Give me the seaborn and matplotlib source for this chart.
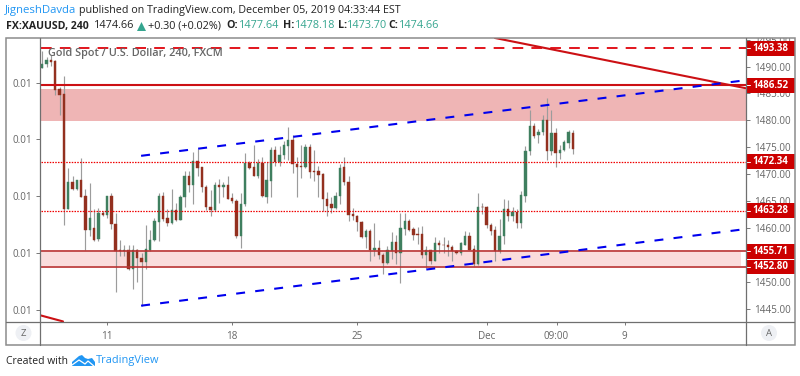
import seaborn as sns
import matplotlib
matplotlib.use("Agg")
import matplotlib.pyplot as plt
from matplotlib.patches import Rectangle, Circle, Polygon

opens = [1489.8,1490.4,1491.3,1491.0,1485.9,1484.9,1463.5,1468.5,1467.3,1468.9,
         1465.9,1459.7,1460.0,1458.0,1462.9,1462.4,1465.9,1460.8,1455.9,1455.8,
         1455.9,1452.5,1455.9,1454.5,1453.7,1456.0,1457.8,1461.2,1465.9,1461.9,
         1460.9,1463.4,1461.6,1465.7,1469.7,1468.1,1472.4,1471.3,1467.7,1464.0,
         1463.4,1468.0,1467.6,1468.0,1465.6,1465.1,1458.5,1464.4,1472.1,1471.3,
         1469.7,1472.1,1465.8,1468.8,1474.6,1472.2,1473.5,1475.2,1476.3,1472.0,
         1471.5,1471.4,1475.0,1470.6,1470.6,1470.0,1465.5,1464.4,1463.7,1465.9,
         1471.3,1468.6,1462.7,1462.3,1461.2,1458.3,1459.4,1455.9,1456.3,1455.0,
         1453.6,1455.8,1457.5,1455.4,1459.9,1461.4,1459.8,1458.9,1458.9,1455.1,
         1455.9,1454.0,1457.3,1456.9,1456.9,1456.6,1455.7,1455.4,1456.9,1458.5,
         1456.2,1453.4,1464.0,1464.0,1460.5,1459.6,1455.8,1458.5,1463.5,1462.2,
         1463.0,1460.9,1466.0,1474.4,1478.9,1477.3,1477.9,1480.1,1474.3,1477.6,
         1473.9,1474.5,1475.9,1477.64]
highs = [1492.8,1491.7,1492.1,1491.3,1486.2,1488.3,1471.1,1469.7,1468.9,1473.0,
         1467.3,1468.3,1463.6,1463.8,1463.2,1465.9,1466.5,1462.9,1457.8,1456.9,
         1456.9,1456.8,1456.2,1455.4,1460.5,1459.6,1461.9,1466.5,1466.8,1463.5,
         1467.2,1464.7,1466.1,1470.6,1470.6,1474.2,1474.7,1471.4,1468.1,1467.1,
         1468.5,1469.2,1468.6,1469.7,1466.5,1465.4,1466.5,1474.0,1472.5,1475.4,
         1472.9,1473.3,1472.2,1475.0,1475.3,1475.3,1476.2,1478.7,1477.2,1473.2,
         1475.5,1475.7,1475.7,1474.5,1471.6,1470.3,1466.7,1465.7,1466.7,1472.0,
         1473.3,1469.7,1463.8,1462.4,1461.3,1459.8,1459.8,1460.9,1457.8,1455.4,
         1456.7,1459.3,1458.8,1462.9,1462.9,1461.7,1460.3,1460.3,1460.4,1456.7,
         1456.0,1458.4,1457.9,1458.3,1457.8,1456.8,1455.9,1457.4,1459.4,1459.3,
         1456.8,1466.6,1464.7,1464.2,1461.0,1460.4,1461.7,1465.5,1465.2,1464.0,
         1463.6,1466.9,1475.3,1481.9,1479.6,1478.4,1481.0,1484.1,1481.9,1478.5,
         1475.4,1476.4,1478.3,1478.18]
lows = [1489.7,1489.9,1490.1,1484.7,1481.0,1460.5,1463.5,1467.1,1467.0,1465.7,
        1456.0,1458.5,1457.6,1457.6,1462.2,1461.9,1459.8,1448.1,1454.8,1454.9,
        1452.3,1448.7,1450.0,1445.6,1452.5,1455.7,1457.6,1457.6,1461.4,1460.4,
        1460.7,1461.3,1461.5,1464.0,1466.7,1464.5,1469.7,1466.7,1463.4,1462.2,
        1463.2,1464.7,1465.8,1465.4,1464.7,1458.2,1456.3,1464.2,1470.9,1469.6,
        1469.4,1465.7,1464.7,1465.7,1471.6,1471.6,1472.8,1472.7,1470.3,1465.8,
        1469.4,1471.2,1469.4,1468.8,1465.7,1463.2,1462.2,1462.9,1463.5,1464.4,
        1468.1,1461.3,1461.6,1459.5,1458.2,1456.3,1453.9,1454.9,1454.2,1451.5,
        1453.3,1454.2,1453.3,1449.8,1458.8,1459.4,1457.8,1457.0,1454.5,1452.6,
        1453.4,1453.9,1455.4,1455.4,1454.8,1454.0,1455.3,1455.1,1456.8,1455.9,
        1453.0,1453.1,1462.7,1460.1,1458.8,1453.9,1455.4,1457.0,1461.3,1461.3,
        1460.1,1460.0,1464.9,1473.5,1476.7,1475.9,1477.3,1472.7,1473.5,1471.4,
        1472.9,1474.3,1474.8,1473.70]
closes = [1490.5,1491.3,1490.9,1485.7,1484.7,1463.5,1468.5,1467.3,1468.9,1465.8,
          1459.7,1461.8,1457.9,1462.9,1462.4,1465.9,1460.8,1455.8,1455.8,1455.9,
          1452.5,1455.9,1454.4,1453.7,1456.2,1457.9,1461.3,1465.9,1461.7,1460.9,
          1463.4,1461.6,1465.8,1469.7,1468.1,1472.4,1471.2,1467.7,1463.9,1463.4,
          1468.0,1467.6,1468.0,1465.5,1465.0,1458.5,1464.4,1472.1,1471.1,1469.7,
          1472.1,1465.9,1468.9,1474.6,1472.3,1473.6,1475.4,1476.3,1472.0,1471.3,
          1471.4,1475.0,1470.4,1470.4,1469.9,1465.4,1464.2,1463.7,1465.9,1471.2,
          1468.5,1462.5,1462.2,1461.1,1458.3,1459.4,1456.0,1456.3,1455.0,1453.6,
          1455.9,1457.5,1455.4,1460.1,1461.4,1459.6,1458.8,1458.8,1455.1,1455.9,
          1454.0,1457.3,1456.8,1456.8,1456.5,1455.7,1455.4,1457.2,1458.5,1456.0,
          1453.4,1464.0,1463.9,1460.5,1459.4,1455.8,1458.6,1463.5,1462.2,1463.0,
          1461.0,1466.1,1474.4,1478.9,1477.1,1477.9,1480.1,1474.3,1477.6,1473.9,
          1474.5,1476.0,1477.9,1474.66]

price_ticks = [1445, 1450, 1460, 1465, 1470, 1475, 1480, 1485, 1490, 1495]
left_ticks = [1444.8, 1455.4, 1465.9, 1476.5, 1486.9]
left_labels = ["0.01", "0.01", "0.01", "0.01", "0.01"]
date_ticks = [15, 44, 73, 103, 119.2, 135]
date_labels = ["11", "18", "25", "Dec", "09:00", "9"]
tag_prices = [1493.38, 1486.52, 1472.34, 1463.28, 1455.71, 1452.80]

upper_x = [22.9, 162.4]
upper_y = [1473.43, 1487.39]
lower_x = [22.9, 162.4]
lower_y = [1445.62, 1459.78]
fall_x = [104.9, 163.0]
fall_y = [1495.3, 1485.98]
fall2_x = [-0.3, 4.8]
fall2_y = [1443.8, 1442.7]
level_x = [-0.3, 163.0]

GREEN = "#3f7f5f"
RED = "#93301f"
GREY = "#666666"

sns.set_theme(style="white")
plt.rcParams["font.family"] = ["Open Sans", "DejaVu Sans"]

fig = plt.figure(figsize=(8, 3.76), dpi=100)
ax = fig.add_axes([39.5 / 800, 1 - 321.7 / 376, 706 / 800, 283.7 / 376])

# zones
ax.fill_between([-0.3, 163.0], 1479.8, 1485.85, color="#efb5b5", lw=0, zorder=0.5)
ax.fill_between([-0.3, 161.9], 1452.95, 1455.55, color="#fadcdc", lw=0, zorder=0.5)

# candles
idx = list(range(len(opens)))
ax.vlines(idx, lows, highs, color="#9c9c9c", lw=0.85, zorder=1)
up = [i for i in idx if closes[i] >= opens[i]]
down = [i for i in idx if closes[i] < opens[i]]
sns.barplot(x=up, y=[closes[i] - opens[i] for i in up], bottom=[opens[i] for i in up],
            native_scale=True, width=0.55, color=GREEN, saturation=1, errorbar=None,
            edgecolor=GREEN, linewidth=0.3, zorder=2, ax=ax)
sns.barplot(x=down, y=[opens[i] - closes[i] for i in down], bottom=[closes[i] for i in down],
            native_scale=True, width=0.55, color=RED, saturation=1, errorbar=None,
            edgecolor=RED, linewidth=0.3, zorder=2, ax=ax)

# levels and trend lines
dash_red = (0, (5.5, 4.2))
dash_blue = (0, (4.3, 4.9))
dotted = (0, (1.2, 1))
sns.lineplot(x=level_x, y=[tag_prices[0]] * 2, color="#e2141c", linewidth=1.4, linestyle=dash_red, ax=ax, zorder=3)
sns.lineplot(x=level_x, y=[tag_prices[1]] * 2, color="#cc1014", linewidth=1.5, ax=ax, zorder=3)
for p in [tag_prices[2], tag_prices[3]]:
    sns.lineplot(x=level_x, y=[p, p], color="#f00000", linewidth=0.9, linestyle=dotted, ax=ax, zorder=3)
for p in [tag_prices[4], tag_prices[5]]:
    sns.lineplot(x=level_x, y=[p, p], color="#b93030", linewidth=1.2, ax=ax, zorder=3)
sns.lineplot(x=fall_x, y=fall_y, color="#cc1014", linewidth=1.5, ax=ax, zorder=3)
sns.lineplot(x=fall2_x, y=fall2_y, color="#cc1014", linewidth=1.5, ax=ax, zorder=3)
sns.lineplot(x=upper_x, y=upper_y, color="#0000ee", linewidth=1.5, linestyle=dash_blue, ax=ax, zorder=3)
sns.lineplot(x=lower_x, y=lower_y, color="#0000ee", linewidth=1.5, linestyle=dash_blue, ax=ax, zorder=3)

ax.set_xlim(-0.65, 163.0)
ax.set_ylim(1442.65, 1495.29)
ax.set_xlabel("")
ax.set_ylabel("")
for s in ax.spines.values():
    s.set_visible(False)
ax.set_xticks(date_ticks)
ax.set_xticklabels(date_labels)
ax.set_yticks(left_ticks)
ax.set_yticklabels(left_labels)
ax.tick_params(axis="x", length=2, width=0.7, color="#777777", labelcolor=GREY, labelsize=7.1, pad=5, bottom=True)
ax.tick_params(axis="y", length=3, width=0.7, color="#777777", labelcolor=GREY, labelsize=7.1, pad=2, left=True)
ax.text(0.0125, 0.947, "Gold Spot / U.S. Dollar, 240, FXCM", transform=ax.transAxes, fontsize=7.8,
        color="#666666", fontweight="semibold", va="center", zorder=4)

# price scale and last-value tags
ax2 = ax.twinx()
ax2.set_ylim(ax.get_ylim())
ax2.set_yticks(price_ticks)
ax2.set_yticklabels([f"{p:.2f}" for p in price_ticks])
ax2.tick_params(axis="y", length=3, width=0.7, color="#777777", labelcolor=GREY, labelsize=7.1, pad=3, right=True)
ax2.grid(False)
for s in ax2.spines.values():
    s.set_visible(False)
for p in tag_prices:
    ax2.add_patch(Rectangle((1.0, p - 1.39), 49 / 706, 2.78, transform=ax2.get_yaxis_transform(),
                            clip_on=False, facecolor="#cc0000", edgecolor="none", zorder=5))
    ax2.plot([1.0, 1.0 + 4 / 706], [p, p], transform=ax2.get_yaxis_transform(), clip_on=False,
             color="white", lw=0.7, zorder=6)
    ax2.text(1.0 + 25 / 706, p, f"{p:.2f}", transform=ax2.get_yaxis_transform(), color="white",
             fontsize=7.0, fontweight="bold", va="center", ha="center", zorder=6)

# page furniture in pixel coordinates
top = fig.add_axes([0, 0, 1, 1], facecolor="none")
top.set_xlim(0, 800)
top.set_ylim(376, 0)
top.axis("off")
top.add_patch(Rectangle((0, 30.5), 800, 7, facecolor="white", edgecolor="none"))
top.add_patch(Rectangle((6, 38), 788.5, 307, fill=False, edgecolor="#8c8c8c", lw=1.1))
top.plot([39.5, 39.5], [38, 345], color="#6f6f6f", lw=0.9)
top.plot([745.5, 745.5], [38, 345], color="#6f6f6f", lw=0.9)
top.plot([6, 794], [321.7, 321.7], color="#6f6f6f", lw=0.9)
for cx, letter in [(23.5, "Z"), (769, "A")]:
    top.add_patch(Circle((cx, 333), 8, facecolor="#eef0f4", edgecolor="none"))
    top.text(cx, 333, letter, fontsize=6.8, color=GREY, ha="center", va="center")

top.text(5, 11, "JigneshDavda", color="#2196f3", fontsize=8.2, va="center")
top.text(79, 11, "published on TradingView.com, December 05, 2019 04:33:44 EST", color="#222222", fontsize=7.72, va="center")
top.text(6, 26, "FX:XAUUSD, 240", color="#222222", fontsize=7.6, fontweight="bold", va="center")
top.text(94, 26, "1474.66", color="#222222", fontsize=7.8, va="center")
top.add_patch(Polygon([[137, 31], [146, 31], [141.5, 22]], facecolor="#35a58f", edgecolor="none"))
top.text(148, 26, "+0.30 (+0.02%)", color="#222222", fontsize=7.8, va="center")
for xl, xv, lab, val in [(226, 239, "O:", "1477.64"), (283, 295, "H:", "1478.18"),
                         (338, 347, "L:", "1473.70"), (388, 399, "C:", "1474.66")]:
    top.text(xl, 26, lab, color="#222222", fontsize=7.7, fontweight="bold", va="center")
    top.text(xv, 26, val, color="#35a58f", fontsize=7.8, va="center")

top.text(6, 361, "Created with", color="#222222", fontsize=7.5, va="center")
top.add_patch(Polygon([[72, 366], [72, 362], [79, 356], [82, 355], [85, 358], [88, 359], [92, 358],
                       [95, 362], [95, 366]], facecolor="#2196f3", edgecolor="none"))
top.plot([72, 79, 85, 88, 95], [365, 360, 364, 361, 367], color="white", lw=0.9)
top.text(96, 361, "TradingView", color="#2196f3", fontsize=7.9, va="center")

fig.savefig("out.png", dpi=100)
